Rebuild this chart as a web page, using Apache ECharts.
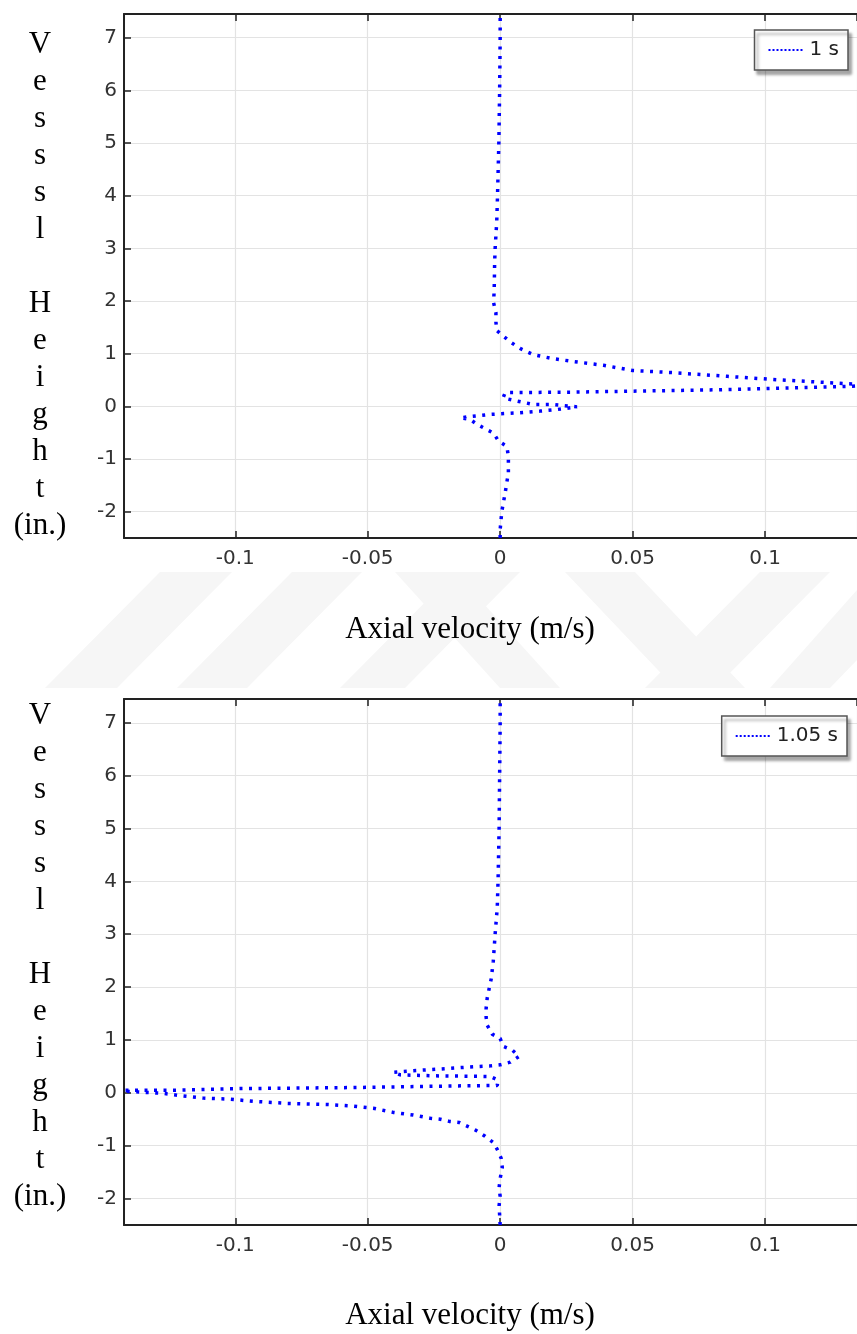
<!DOCTYPE html>
<html>
<head>
<meta charset="utf-8">
<script src="https://cdn.jsdelivr.net/npm/echarts@6/dist/echarts.min.js"></script>
<style>
  html, body { margin: 0; padding: 0; background: #fff; }
  #chart { width: 857px; height: 1334px; }
</style>
</head>
<body>
<div id="chart"></div>
<script>
// 1 s profile, read from the bottom of the vessel upward
const velocity1s = [0, 0, 0.0006, 0.0019, 0.0031, 0.0031, 0.0025, -0.0006, -0.0025, -0.0088, -0.0113, -0.0151,
  -0.0038, 0.0075, 0.0151, 0.0215, 0.029, 0.020, 0.0125, 0.0064, 0.0011, 0.0019, 0.0275, 0.078, 0.133, 0.14,
  0.131, 0.103, 0.0857, 0.065, 0.050, 0.039, 0.0277, 0.0195, 0.0126, 0.0075, 0.0042, 0.0013, -0.0013, -0.0016,
  -0.0016, -0.0025, -0.0023, -0.0022, -0.0021, -0.0019, -0.0013, -0.0010, -0.0005, -0.0002, 0, 0]
const height1s = [-2.5, -2.34, -2.0, -1.64, -1.26, -0.94, -0.76, -0.66, -0.51, -0.34, -0.25, -0.216,
  -0.154, -0.12, -0.09, -0.06, -0.01, 0.035, 0.035, 0.1, 0.16, 0.26, 0.27, 0.31, 0.38, 0.41,
  0.43, 0.51, 0.57, 0.64, 0.68, 0.78, 0.85, 0.91, 0.98, 1.1, 1.21, 1.33, 1.44, 1.6,
  1.78, 1.97, 2.16, 2.35, 2.7, 3.0, 3.5, 4.0, 5.0, 6.0, 7.0, 7.45]

// 1.05 s profile
const velocity105s = [0, -0.0004, 0, -0.0004, 0, 0.0008, 0.0004, -0.0011, -0.0026, -0.0057, -0.0091, -0.0125,
  -0.0155, -0.0192, -0.0226, -0.0264, -0.0328, -0.0404, -0.0479, -0.0555, -0.0653, -0.0804, -0.0932, -0.1019,
  -0.1121, -0.1196, -0.1272, -0.1347, -0.1408, -0.146, -0.1234, -0.0992, -0.0555, -0.0177, -0.0011, -0.0008,
  -0.0038, -0.0226, -0.0377, -0.0404, -0.0328, -0.0226, -0.0113, -0.0038, 0, 0.0038, 0.0072, 0.0045, 0.0011, 0,
  -0.0030, -0.0049, -0.0053, -0.0053, -0.0049, -0.0042, -0.0034, -0.003, -0.0026, -0.0019, -0.0011, -0.0008,
  -0.0004, -0.0002, 0, 0]
const height105s = [-2.5, -2.13, -1.96, -1.79, -1.62, -1.41, -1.24, -1.07, -0.94, -0.82, -0.71, -0.63,
  -0.56, -0.54, -0.5, -0.48, -0.42, -0.37, -0.29, -0.25, -0.22, -0.2, -0.16, -0.12,
  -0.1, -0.06, -0.01, 0.01, 0.03, 0.05, 0.05, 0.08, 0.1, 0.13, 0.14, 0.24,
  0.31, 0.32, 0.34, 0.39, 0.42, 0.45, 0.49, 0.51, 0.53, 0.58, 0.69, 0.81, 0.88, 1.03,
  1.11, 1.28, 1.43, 1.6, 1.79, 1.96, 2.15, 2.32, 2.49, 3.0, 3.5, 4.0,
  5.0, 6.0, 7.0, 7.45]

const seriesNames = ['1 s', '1.05 s']
const xRange = [-0.142, 0.1347]
const yRange = [-2.5, 7.45]

const pair = (xs, ys) => xs.map((x, i) => [x, ys[i]])

const axisColor = '#222'
const tickFont = { fontFamily: 'DejaVu Sans', fontSize: 20, color: '#333' }

function bottomAxis (gridIndex) {
  return {
    type: 'value', gridIndex, position: 'bottom',
    min: xRange[0], max: xRange[1], splitNumber: 5,
    axisLine: { onZero: false, lineStyle: { color: axisColor, width: 2 } },
    axisTick: { inside: true, length: 7, lineStyle: { color: axisColor, width: 1.5 } },
    axisLabel: { ...tickFont, margin: 11, showMinLabel: false, showMaxLabel: false },
    splitLine: { lineStyle: { color: '#e3e3e3', width: 1.2 } }
  }
}
function topAxis (gridIndex) {
  return {
    type: 'value', gridIndex, position: 'top',
    min: xRange[0], max: xRange[1], splitNumber: 5,
    axisLine: { onZero: false, lineStyle: { color: axisColor, width: 2 } },
    axisTick: { inside: true, length: 7, lineStyle: { color: axisColor, width: 1.5 } },
    axisLabel: { show: false },
    splitLine: { show: false }
  }
}
function leftAxis (gridIndex) {
  return {
    type: 'value', gridIndex,
    min: yRange[0], max: yRange[1], splitNumber: 10,
    axisLine: { show: true, onZero: false, lineStyle: { color: axisColor, width: 2 } },
    axisTick: { show: true, inside: true, length: 7, lineStyle: { color: axisColor, width: 1.5 } },
    axisLabel: { ...tickFont, margin: 7, showMinLabel: false, showMaxLabel: false },
    splitLine: { lineStyle: { color: '#e3e3e3', width: 1.2 } }
  }
}
function legendBox (name, top, right) {
  return {
    data: [name], top, right, orient: 'vertical',
    backgroundColor: '#fff', borderColor: '#555', borderWidth: 1.5,
    shadowColor: 'rgba(0,0,0,0.35)', shadowBlur: 3, shadowOffsetX: 3, shadowOffsetY: 4,
    padding: [10, 9, 10, 13], itemWidth: 36, itemHeight: 14, itemGap: 0,
    itemStyle: { opacity: 0 },
    lineStyle: { width: 2, type: [2, 2] },
    textStyle: { fontFamily: 'DejaVu Sans', fontSize: 20, color: '#222' }
  }
}
function dotted (name, data, axisIndex) {
  return {
    name, type: 'line', data, xAxisIndex: axisIndex * 2, yAxisIndex: axisIndex,
    symbol: 'none', smooth: false, animation: false,
    lineStyle: { color: '#0000ff', width: 3.5, type: [3, 6.5], cap: 'butt' },
    itemStyle: { color: '#0000ff' }
  }
}

const yTitle = 'V\ne\ns\ns\ns\nl\n\nH\ne\ni\ng\nh\nt\n(in.)'
const titleFont = { fontFamily: 'Liberation Serif', fontSize: 31, fill: '#000' }

// faint watermark stripes between the two plots
const stripes = [
  [[160, 572], [232, 572], [117, 688], [45, 688]],
  [[292, 572], [362, 572], [247, 688], [177, 688]],
  [[395, 572], [455, 572], [560, 688], [500, 688]],
  [[455, 572], [520, 572], [405, 688], [340, 688]],
  [[565, 572], [635, 572], [745, 688], [675, 688]],
  [[760, 572], [830, 572], [715, 688], [645, 688]],
  [[857, 590], [857, 660], [830, 688], [770, 688]]
]

const chart = echarts.init(document.getElementById('chart'))
chart.setOption({
  animation: false,
  grid: [
    { left: 124, top: 14, right: 0, height: 524 },
    { left: 124, top: 699, right: 0, height: 526 }
  ],
  xAxis: [bottomAxis(0), topAxis(0), bottomAxis(1), topAxis(1)],
  yAxis: [leftAxis(0), leftAxis(1)],
  legend: [legendBox(seriesNames[0], 30, 9), legendBox(seriesNames[1], 716, 10)],
  series: [
    dotted(seriesNames[0], pair(velocity1s, height1s), 0),
    dotted(seriesNames[1], pair(velocity105s, height105s), 1)
  ],
  graphic: [
    ...stripes.map(p => ({ type: 'polygon', z: -10, shape: { points: p }, style: { fill: '#f6f6f6' } })),
    { type: 'text', x: 40, y: 26, style: { text: yTitle, ...titleFont, lineHeight: 37, align: 'center', verticalAlign: 'top' } },
    { type: 'text', x: 40, y: 697, style: { text: yTitle, ...titleFont, lineHeight: 37, align: 'center', verticalAlign: 'top' } },
    { type: 'text', x: 470, y: 630, style: { text: 'Axial velocity (m/s)', ...titleFont, align: 'center', verticalAlign: 'middle' } },
    { type: 'text', x: 470, y: 1316, style: { text: 'Axial velocity (m/s)', ...titleFont, align: 'center', verticalAlign: 'middle' } }
  ]
})
</script>
</body>
</html>
